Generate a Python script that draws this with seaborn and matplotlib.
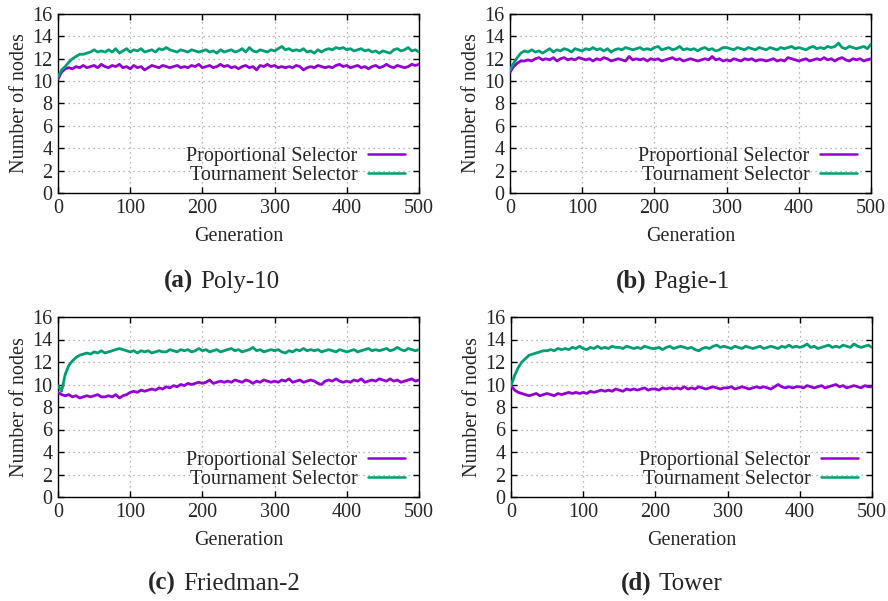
import matplotlib
matplotlib.use("Agg")
import matplotlib.pyplot as plt
import seaborn as sns
import pandas as pd

# Generations sampled every 5 steps
generations = list(range(0, 501, 5))

# ---- (a) Poly-10 ----
poly10_tournament = [
    10.4, 11.0, 11.3, 11.7, 12.0, 12.2, 12.4, 12.4, 12.5, 12.6,
    12.8, 12.6, 12.7, 12.6, 12.8, 12.6, 12.9, 12.5, 12.7, 12.9,
    12.6, 12.8, 12.7, 12.9, 12.6, 12.7, 12.8, 12.6, 12.9, 12.8,
    13.0, 12.8, 12.7, 12.6, 12.8, 12.7, 12.6, 12.8, 12.7, 12.6,
    12.7, 12.8, 12.6, 12.7, 12.5, 12.8, 12.6, 12.7, 12.8, 12.6,
    12.7, 12.9, 12.6, 13.0, 12.7, 12.6, 12.8, 12.7, 12.6, 12.8,
    12.7, 12.9, 13.1, 12.8, 12.9, 12.7, 12.8, 12.7, 12.9, 12.6,
    12.7, 12.5, 12.8, 12.6, 12.8, 12.9, 12.8, 13.0, 12.9, 13.0,
    12.8, 12.9, 12.7, 12.8, 12.9, 12.7, 12.8, 12.6, 12.7, 12.5,
    12.7, 12.6, 12.5, 12.8, 12.9, 12.7, 12.8, 13.0, 12.7, 12.8,
    12.6,
]
poly10_proportional = [
    10.2, 10.8, 11.1, 11.2, 11.1, 11.3, 11.2, 11.4, 11.2, 11.3,
    11.4, 11.2, 11.5, 11.3, 11.2, 11.4, 11.3, 11.5, 11.2, 11.3,
    11.1, 11.4, 11.2, 11.3, 11.0, 11.2, 11.4, 11.3, 11.2, 11.4,
    11.3, 11.2, 11.3, 11.4, 11.2, 11.3, 11.2, 11.4, 11.3, 11.5,
    11.2, 11.3, 11.4, 11.2, 11.3, 11.5, 11.3, 11.4, 11.2, 11.3,
    11.1, 11.3, 11.4, 11.2, 11.3, 11.0, 11.4, 11.3, 11.5, 11.3,
    11.4, 11.2, 11.3, 11.2, 11.3, 11.2, 11.4, 11.3, 11.0, 11.2,
    11.3, 11.2, 11.4, 11.3, 11.2, 11.3, 11.2, 11.4, 11.5, 11.3,
    11.4, 11.2, 11.3, 11.4, 11.2, 11.3, 11.1, 11.3, 11.4, 11.2,
    11.3, 11.5, 11.3, 11.2, 11.4, 11.3, 11.2, 11.3, 11.5, 11.4,
    11.5,
]

# ---- (b) Pagie-1 ----
pagie1_tournament = [
    11.0, 11.6, 12.1, 12.5, 12.7, 12.6, 12.8, 12.6, 12.7, 12.5,
    12.7, 12.9, 12.6, 12.8, 12.7, 12.9, 12.8, 12.6, 12.9, 12.8,
    12.7, 12.9, 12.8, 13.0, 12.8, 12.9, 12.7, 12.9, 12.6, 12.8,
    12.9, 12.8, 13.0, 12.9, 12.8, 12.9, 13.0, 12.8, 12.9, 12.8,
    13.0, 13.1, 12.8, 12.9, 13.0, 12.8, 12.9, 13.1, 12.8, 12.9,
    12.8, 12.9, 12.7, 12.9, 13.0, 12.8, 12.9, 12.7, 12.8, 13.0,
    13.0, 12.9, 12.8, 13.0, 12.9, 12.8, 13.0, 12.9, 12.8, 13.0,
    12.9, 12.8, 13.0, 12.9, 12.8, 13.0, 12.9, 13.0, 13.1, 12.9,
    13.0, 12.9, 12.8, 13.0, 13.1, 12.9, 13.0, 12.9, 13.1, 13.0,
    13.1, 13.4, 13.0, 12.9, 13.1, 13.0, 12.9, 13.0, 13.1, 12.9,
    13.3,
]
pagie1_proportional = [
    10.8, 11.3, 11.6, 11.8, 11.8, 11.9, 11.8, 12.0, 12.1, 11.9,
    12.0, 11.9, 12.1, 11.8, 12.0, 12.1, 11.9, 12.0, 11.9, 12.1,
    12.0, 11.9, 12.0, 11.8, 12.0, 11.9, 12.1, 12.0, 11.8, 11.9,
    12.0, 11.9, 11.8, 12.2, 11.9, 12.0, 11.9, 12.0, 11.8, 12.0,
    11.9, 12.0, 11.8, 11.9, 12.0, 12.1, 11.9, 12.0, 11.8, 11.9,
    12.0, 11.9, 11.8, 11.9, 12.0, 11.9, 12.2, 11.9, 12.0, 11.8,
    11.9, 11.8, 12.0, 11.9, 11.8, 12.0, 11.9, 12.0, 11.8, 11.9,
    11.9, 11.8, 11.9, 12.0, 11.8, 11.9, 11.8, 12.1, 12.0, 11.9,
    11.8, 11.9, 12.0, 11.8, 11.9, 12.0, 11.9, 12.1, 11.9, 12.0,
    11.8, 12.0, 12.1, 11.9, 11.8, 12.0, 11.9, 12.0, 11.8, 11.9,
    12.0,
]

# ---- (c) Friedman-2 ----
friedman2_tournament = [
    9.9, 9.4, 10.9, 11.7, 12.1, 12.4, 12.6, 12.7, 12.8, 12.7,
    12.9, 12.8, 13.0, 12.8, 12.9, 13.0, 13.1, 13.2, 13.1, 13.0,
    12.9, 13.0, 12.8, 13.0, 12.9, 13.0, 12.8, 12.9, 13.0, 12.9,
    12.9, 13.1, 13.0, 12.9, 13.1, 13.0, 13.1, 12.9, 13.0, 13.2,
    13.0, 13.1, 12.9, 13.0, 13.1, 12.9, 13.0, 13.1, 13.2, 13.0,
    13.1, 12.9, 13.0, 13.1, 13.3, 13.0, 13.1, 12.9, 13.0, 13.1,
    13.0, 13.1, 12.9, 12.8, 13.0, 12.9, 13.1, 13.0, 13.2, 13.0,
    13.1, 13.0, 13.1, 12.9, 13.0, 13.1, 13.0, 12.9, 13.1, 13.0,
    12.9, 13.0, 13.1, 12.9, 13.0, 13.1, 13.2, 13.0, 13.1, 13.0,
    13.1, 13.2, 13.0, 13.1, 13.3, 13.1, 13.0, 13.2, 13.1, 13.0,
    13.1,
]
friedman2_proportional = [
    9.3, 9.1, 9.0, 9.1, 8.9, 9.0, 8.8, 8.9, 9.0, 8.9,
    9.0, 9.1, 8.9, 8.9, 9.0, 8.9, 9.1, 8.8, 9.0, 9.1,
    9.3, 9.4, 9.3, 9.5, 9.4, 9.5, 9.6, 9.5, 9.7, 9.6,
    9.8, 9.7, 9.9, 9.8, 10.0, 9.9, 10.1, 10.0, 10.1, 10.2,
    10.1, 10.2, 10.4, 10.1, 10.2, 10.3, 10.2, 10.3, 10.2, 10.4,
    10.3, 10.2, 10.4, 10.3, 10.1, 10.3, 10.2, 10.4, 10.3, 10.2,
    10.3, 10.2, 10.4, 10.3, 10.5, 10.2, 10.3, 10.4, 10.2, 10.3,
    10.4, 10.3, 10.1, 10.0, 10.3, 10.4, 10.3, 10.5, 10.3, 10.2,
    10.3, 10.2, 10.4, 10.3, 10.5, 10.2, 10.3, 10.4, 10.3, 10.5,
    10.4, 10.3, 10.5, 10.3, 10.4, 10.2, 10.3, 10.4, 10.5, 10.3,
    10.4,
]

# ---- (d) Tower ----
tower_tournament = [
    9.9, 10.8, 11.5, 12.0, 12.3, 12.6, 12.7, 12.8, 12.9, 13.0,
    13.0, 13.1, 13.0, 13.2, 13.1, 13.2, 13.1, 13.3, 13.2, 13.4,
    13.2, 13.1, 13.3, 13.2, 13.4, 13.2, 13.3, 13.2, 13.4, 13.3,
    13.3, 13.2, 13.4, 13.3, 13.2, 13.3, 13.2, 13.4, 13.3, 13.2,
    13.2, 13.3, 13.1, 13.3, 13.4, 13.2, 13.3, 13.4, 13.3, 13.2,
    13.3, 13.1, 13.0, 13.2, 13.3, 13.2, 13.4, 13.5, 13.3, 13.4,
    13.3, 13.2, 13.4, 13.3, 13.2, 13.4, 13.3, 13.2, 13.3, 13.4,
    13.2, 13.3, 13.4, 13.3, 13.2, 13.4, 13.3, 13.5, 13.3, 13.4,
    13.3, 13.4, 13.6, 13.3, 13.4, 13.2, 13.3, 13.4, 13.5, 13.3,
    13.4, 13.3, 13.5, 13.4, 13.3, 13.6, 13.4, 13.3, 13.4, 13.5,
    13.3,
]
tower_proportional = [
    9.9, 9.5, 9.3, 9.2, 9.1, 9.0, 9.1, 9.2, 9.0, 9.1,
    9.2, 9.1, 9.0, 9.2, 9.1, 9.2, 9.3, 9.2, 9.3, 9.2,
    9.3, 9.2, 9.4, 9.3, 9.4, 9.5, 9.4, 9.5, 9.4, 9.6,
    9.5, 9.4, 9.6, 9.5, 9.6, 9.5, 9.6, 9.7, 9.5, 9.6,
    9.6, 9.5, 9.7, 9.6, 9.7, 9.6, 9.7, 9.6, 9.8, 9.6,
    9.7, 9.6, 9.8, 9.7, 9.6, 9.7, 9.8, 9.7, 9.6, 9.7,
    9.7, 9.8, 9.6, 9.7, 9.8, 9.7, 9.6, 9.7, 9.8, 9.7,
    9.8, 9.7, 9.6, 9.8, 10.0, 9.8, 9.7, 9.8, 9.7, 9.8,
    9.8, 9.7, 9.9, 9.8, 9.7, 9.8, 9.9, 9.7, 9.8, 9.9,
    10.0, 9.8, 9.9, 9.7, 9.8, 9.9, 9.8, 9.7, 9.9, 9.8,
    9.8,
]

series_labels = ["Proportional Selector", "Tournament Selector"]
series_colors = ["#9400D3", "#009E73"]
panel_tags = ["(a)", "(b)", "(c)", "(d)"]
panel_names = ["Poly-10", "Pagie-1", "Friedman-2", "Tower"]
panel_data = [
    (poly10_proportional, poly10_tournament),
    (pagie1_proportional, pagie1_tournament),
    (friedman2_proportional, friedman2_tournament),
    (tower_proportional, tower_tournament),
]
x_ticks = [0, 100, 200, 300, 400, 500]
y_ticks = [0, 2, 4, 6, 8, 10, 12, 14, 16]

sns.set_theme(style="white")
plt.rcParams["font.family"] = ["Liberation Serif", "DejaVu Serif"]
plt.rcParams["mathtext.fontset"] = "dejavuserif"

W, H = 888, 601
fig = plt.figure(figsize=(W / 100, H / 100), dpi=100)

# axes boxes in pixels: left, top, right, bottom
boxes = [
    (58, 14, 419, 193),
    (510, 14, 871, 193),
    (58, 317, 419, 497),
    (511, 317, 872, 497),
]
caption_pos = [(222, 288), (673, 288), (224, 590), (672, 590)]

tick_fs = 14.5
legend_fs = 14.5
axes_list = []
for i, (l, t, r, b) in enumerate(boxes):
    ax = fig.add_axes([l / W, 1 - b / H, (r - l) / W, (b - t) / H])
    axes_list.append(ax)
    prop, tour = panel_data[i]
    df = pd.DataFrame({
        "Generation": generations * 2,
        "Nodes": list(prop) + list(tour),
        "Selector": [series_labels[0]] * len(prop) + [series_labels[1]] * len(tour),
    })
    sns.lineplot(data=df, x="Generation", y="Nodes", hue="Selector",
                 palette=dict(zip(series_labels, series_colors)),
                 linewidth=2.0, ax=ax, zorder=3)
    ax.set_xlim(0, 500)
    ax.set_ylim(0, 16)
    ax.set_xticks(x_ticks)
    ax.set_yticks(y_ticks)
    ax.grid(True, color="#a0a0a0", linestyle=(0, (1, 3)), linewidth=0.9, zorder=0)
    ax.tick_params(direction="in", length=4.5, width=1.0, color="black",
                   top=True, right=True, bottom=True, left=True,
                   labelsize=tick_fs, pad=4)
    for s in ax.spines.values():
        s.set_color("black")
        s.set_linewidth(1.0)
        s.set_visible(True)
    ax.set_xlabel("Generation", fontsize=tick_fs, labelpad=7)
    ax.set_ylabel("Number of nodes", fontsize=tick_fs, labelpad=2)
    ax.legend(loc="lower right", bbox_to_anchor=(1 - 14 / 361, 0.045),
              frameon=False, markerfirst=False, fontsize=legend_fs,
              handlelength=1.85, handletextpad=0.5, labelspacing=0.0,
              borderpad=0, borderaxespad=0)
    for line in ax.get_legend().get_lines():
        line.set_linewidth(1.8)

# captions: bold tag followed by the dataset name, centred as a pair
fig.canvas.draw()
renderer = fig.canvas.get_renderer()
for i, (cx, cy) in enumerate(caption_pos):
    tag = fig.text(0, 1 - cy / H, panel_tags[i], fontsize=18, fontweight="bold",
                   ha="left", va="baseline")
    name = fig.text(0, 1 - cy / H, panel_names[i], fontsize=18,
                    ha="left", va="baseline")
    wt = tag.get_window_extent(renderer).width
    wn = name.get_window_extent(renderer).width
    gap = 7
    total = wt + gap + wn
    x0 = cx - total / 2
    tag.set_x(x0 / W)
    name.set_x((x0 + wt + gap) / W)

fig.savefig("out.png", dpi=100)
